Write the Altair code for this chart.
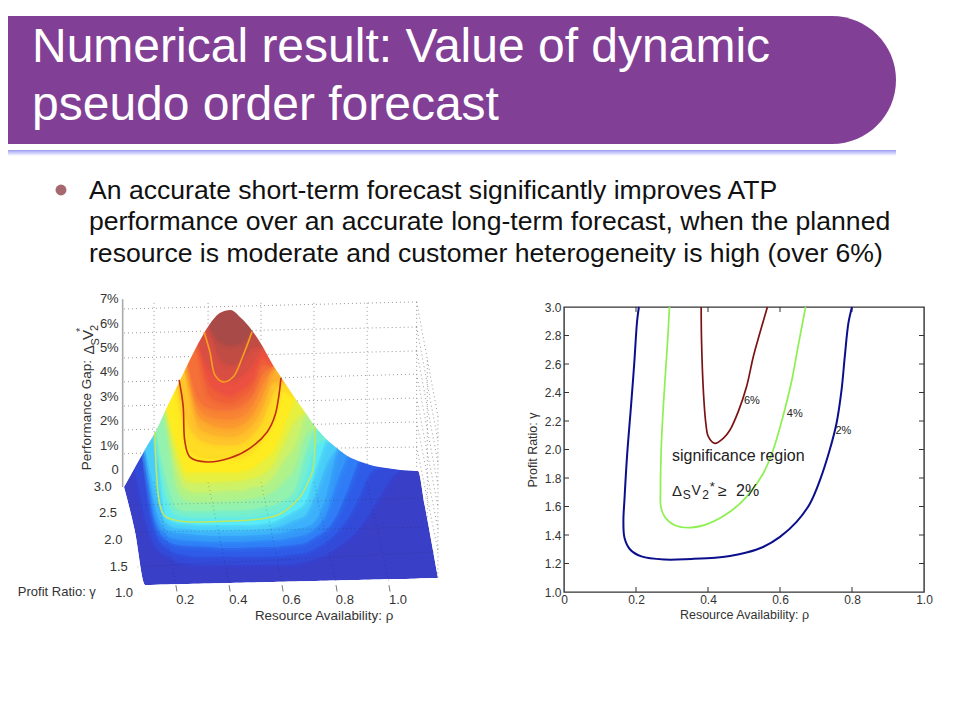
import altair as alt

FONT = "Liberation Sans"

TITLE_LINES = ["Numerical result: Value of dynamic", "pseudo order forecast"]
BULLET_LINES = [
    "An accurate short-term forecast significantly improves ATP",
    "performance over an accurate long-term forecast, when the planned",
    "resource is moderate and customer heterogeneity is high (over 6%)",
]

# ---- right panel: contours
BLUE_RHO = [0.208,0.203,0.195,0.186,0.175,0.168,0.165,0.168,0.183,0.215,0.28,0.355,0.42,0.461,0.507,0.553,0.60,0.646,0.683,0.711,0.738,0.757,0.771,0.78,0.79,0.80]
BLUE_GAM = [3.0,2.9,2.6,2.3,1.95,1.65,1.5,1.38,1.30,1.25,1.228,1.232,1.24,1.253,1.277,1.316,1.387,1.492,1.62,1.785,1.996,2.184,2.418,2.653,2.887,3.0]
GREEN_RHO = [0.293,0.288,0.28,0.271,0.268,0.269,0.28,0.308,0.35,0.401,0.461,0.507,0.553,0.581,0.608,0.631,0.65,0.671]
GREEN_GAM = [3.0,2.77,2.465,2.067,1.715,1.6,1.527,1.469,1.452,1.48,1.563,1.668,1.83,1.996,2.23,2.465,2.72,3.0]
RED_RHO = [0.381,0.382,0.387,0.394,0.401,0.419,0.443,0.461,0.484,0.507,0.526,0.544,0.565]
RED_GAM = [3.0,2.77,2.418,2.184,2.09,2.043,2.08,2.137,2.266,2.44,2.653,2.817,3.0]
RHO_TICKS = [0,0.2,0.4,0.6,0.8,1.0]
GAM_TICKS = [1.0,1.2,1.4,1.6,1.8,2.0,2.2,2.4,2.6,2.8,3.0]
LABEL_RHO = [0.522,0.641,0.776]
LABEL_GAM = [2.343,2.25,2.13]
LABEL_TXT = ["6%","4%","2%"]

# ---- left panel: surface, rho as projected on the front edge, height in percent
COL = [-0.03,0.01,0.05,0.09,0.13,0.17,0.21,0.25,0.29,0.33,0.37,0.41,0.45,0.49,0.53,0.57,0.61,0.65,0.69,0.73,0.77,0.81,0.85,0.89,0.93,0.97,1.01,1.05,1.075,1.10,1.15]
TOP = [-0.70,0.08,0.86,1.60,2.54,3.44,4.34,5.20,5.94,6.43,6.56,6.23,5.74,5.08,4.30,3.65,2.99,2.38,1.76,1.27,0.90,0.57,0.37,0.23,0.12,0.06,0.0,-0.02,-0.04,-1.43,-4.43]
BASE = [-0.70,-2.46,-4.71,-4.70,-4.69,-4.68,-4.67,-4.66,-4.65,-4.64,-4.63,-4.62,-4.61,-4.60,-4.59,-4.58,-4.57,-4.56,-4.55,-4.54,-4.53,-4.52,-4.51,-4.50,-4.49,-4.48,-4.47,-4.46,-4.45,-4.44,-4.43]
BAND_COLORS = ["#3349d8","#2e5ce8","#2f7cf6","#3396f8","#3cb0fa","#48ccf8","#58eaf6","#72eed2","#93f2ae","#b0f28a","#ccf26a","#e6f040","#ffec20","#ffdc24","#ffc52a","#fdb02c","#fb9830","#f88434","#f47038","#f06038","#ec5040","#d84e42","#c04c44","#a84a48"]
BAND_START = [1,2,2,2,2,2,3,3,3,4,4,4,4,5,5,6,6,6,6,7,7,7,8,8]
BAND_LOW = [
    [0.08,-2.05,-3.20,-3.52,-3.77,-3.85,-3.89,-3.89,-3.89,-3.89,-3.89,-3.89,-3.89,-3.89,-3.89,-3.85,-3.77,-3.65,-3.48,-3.20,-2.87,-2.46,-1.84,-1.15,-0.41,0.0],
    [0.86,-2.6,-3.2,-3.42,-3.5,-3.55,-3.55,-3.55,-3.55,-3.55,-3.55,-3.55,-3.55,-3.5,-3.45,-3.4,-3.2,-2.95,-2.55,-2.0,-1.2,-0.2,0.12],
    [0.86,-2.25,-2.87,-3.07,-3.11,-3.14,-3.16,-3.20,-3.20,-3.20,-3.18,-3.16,-3.16,-3.11,-3.07,-2.99,-2.74,-2.46,-1.84,-0.82,0.37],
    [0.86,-1.95,-2.68,-2.85,-2.9,-2.92,-2.95,-2.95,-2.95,-2.95,-2.92,-2.9,-2.88,-2.85,-2.75,-2.65,-2.4,-1.8,-0.5,0.57],
    [0.86,-1.64,-2.46,-2.58,-2.62,-2.66,-2.70,-2.70,-2.70,-2.70,-2.68,-2.66,-2.62,-2.56,-2.42,-2.34,-2.05,-1.02,0.90],
    [0.86,-1.0,-2.2,-2.4,-2.42,-2.48,-2.48,-2.48,-2.48,-2.48,-2.46,-2.44,-2.38,-2.25,-2.05,-1.85,-1.0,0.2,0.90],
    [1.60,-1.93,-2.17,-2.20,-2.25,-2.25,-2.25,-2.25,-2.25,-2.25,-2.20,-2.13,-1.93,-1.68,-1.35,0.0,1.27],
    [1.60,-1.2,-1.88,-1.95,-1.97,-1.97,-1.95,-1.95,-1.95,-1.92,-1.85,-1.78,-1.6,-1.25,-0.4,1.0,1.27],
    [1.60,-0.41,-1.56,-1.68,-1.68,-1.68,-1.64,-1.64,-1.64,-1.60,-1.52,-1.43,-1.23,-0.82,0.61,1.76],
    [2.54,-0.8,-1.25,-1.3,-1.3,-1.27,-1.25,-1.23,-1.15,-1.07,-0.85,-0.45,0.1,1.4,1.76],
    [2.54,0.0,-0.82,-0.90,-0.90,-0.86,-0.82,-0.82,-0.70,-0.61,-0.25,0.41,1.02,2.38],
    [2.54,0.5,-0.45,-0.5,-0.5,-0.48,-0.45,-0.43,-0.33,-0.15,0.25,1.1,2.0,2.38],
    [2.54,1.0,-0.1,-0.08,-0.08,-0.08,-0.08,-0.04,0.08,0.41,0.82,1.8,2.99],
    [3.44,0.95,0.55,0.45,0.45,0.45,0.5,0.75,1.2,2.0,3.2,2.99],
    [3.44,1.9,1.3,1.1,1.02,1.02,1.1,1.4,2.0,3.1,3.65],
    [4.34,1.75,1.5,1.4,1.37,1.48,1.8,2.5,3.6,3.65],
    [4.34,2.2,1.9,1.76,1.72,1.85,2.2,3.0,4.30],
    [4.34,2.55,2.2,2.1,2.08,2.2,2.6,3.5,4.30],
    [4.34,2.9,2.55,2.46,2.46,2.6,3.0,3.9,4.30],
    [5.20,3.05,2.8,2.75,2.95,3.35,4.3,4.30],
    [5.20,3.6,3.2,3.07,3.3,3.7,4.6,4.30],
    [5.20,4.2,3.8,3.65,3.85,4.3,5.08],
    [5.94,4.6,4.3,4.5,5.0,5.08],
    [5.94,5.3,5.12,5.2,5.74],
]
C2_RHO = [0.086,0.094,0.105,0.124,0.18,0.256,0.368,0.481,0.556,0.632,0.662,0.68,0.688]
C2_H = [1.56,-0.41,-1.43,-1.89,-2.09,-2.13,-2.09,-2.01,-1.80,-1.1,-0.49,0.0,1.76]
C4_RHO = [0.177,0.192,0.199,0.218,0.282,0.368,0.444,0.508,0.538,0.56]
C4_H = [3.69,2.66,1.15,0.53,0.33,0.49,0.90,1.56,2.25,3.77]
C6_RHO = [0.271,0.293,0.312,0.342,0.38,0.414,0.451]
C6_H = [5.66,4.84,3.89,3.61,3.81,4.59,5.66]

WALL_L = [6.60,5.61,4.59,3.61,2.62,1.64,0.66]
WALL_R = [6.89,5.86,4.88,3.93,2.95,1.97,0.94]
ROW_CUT_L = [(None,None),(0.27,5.69),(0.225,4.65),(0.18,3.67),(0.136,2.67),(0.093,1.68),(0.042,0.70)]
ROW_CUT_R = [(None,None),(0.45,5.72),(0.51,4.73),(0.56,3.78),(0.62,2.83),(0.68,1.87),(0.77,0.90)]
WALL_SIDE = [2.20,1.20,0.30,-0.60,-1.50,-2.40,-3.30]
WALL_V = [0.083,0.286,0.485,0.684,0.884]
WALL_V_END = [1.4,5.9,5.2,1.85,0.2]
FRONT_V = [0.165,0.365,0.564,0.767,0.966]
FLOOR_L = [(0.02,-3.97),(0.01,-2.55),(-0.01,-1.44)]
FLOOR_R = [(1.135,-3.36),(1.12,-2.34),(1.11,-1.15)]

H_TICKS = [1,2,3,4,5,6,7]
RHO_LBL = [0.2,0.4,0.6,0.8,1.0]
GAM3D = ["3.0","2.5","2.0","1.5","1.0"]
GAM3D_X = [-0.11,-0.09,-0.07,-0.05,-0.03]
GAM3D_Y = [-0.70,-1.78,-2.87,-3.97,-5.04]

# ---------- top
def vals(rows):
    return alt.Data(values=rows)

one = vals([{"a": 1}])
banner = alt.Chart(one).mark_rect(color="#823f96", cornerRadiusTopRight=64, cornerRadiusBottomRight=64).encode(
    x=alt.value(0), x2=alt.value(888), y=alt.value(8), y2=alt.value(136))
underline = alt.Chart(one).mark_rect(color=alt.Gradient(gradient="linear", x1=0, x2=0, y1=0, y2=1,
        stops=[alt.GradientStop(color="#9c9cf4", offset=0), alt.GradientStop(color="#ffffff", offset=1)])).encode(
    x=alt.value(0), x2=alt.value(888), y=alt.value(142), y2=alt.value(148))
top_layers = [banner, underline]
for t, yy in zip(TITLE_LINES, [54, 112]):
    top_layers.append(alt.Chart(one).mark_text(font=FONT, fontSize=48, color="white", align="left", baseline="alphabetic").encode(
        x=alt.value(24), y=alt.value(yy), text=alt.value(t)))
for t, yy in zip(BULLET_LINES, [191, 222, 254]):
    top_layers.append(alt.Chart(one).mark_text(font=FONT, fontSize=26.6, color="#111111", align="left", baseline="alphabetic").encode(
        x=alt.value(81), y=alt.value(yy), text=alt.value(t)))
top_layers.append(alt.Chart(one).mark_circle(color="#a4686e", size=120, opacity=1).encode(x=alt.value(53), y=alt.value(182)))
top = alt.layer(*top_layers).properties(width=944, height=299)

# ---------- left
XL = alt.Scale(domain=[-0.466, 1.481], nice=False, zero=False)
YL = alt.Scale(domain=[-6.844, 6.68], nice=False, zero=False)
def X(): return alt.X("x:Q", scale=XL, axis=None)
def Y(): return alt.Y("y:Q", scale=YL, axis=None)

def seg(x1, y1, x2, y2):
    return [{"x": x1, "y": y1, "i": 0}, {"x": x2, "y": y2, "i": 1}]

def path_layer(points, **mk):
    return alt.Chart(vals(points)).mark_line(**mk).encode(X(), Y(), order="i:Q")

def txt(x, y, s, size=12, align="center", angle=0, color="#333333", baseline="middle"):
    return alt.Chart(vals([{"x": x, "y": y, "s": s}])).mark_text(font=FONT, fontSize=size, align=align, angle=angle, color=color, baseline=baseline).encode(X(), Y(), text="s:N")

L = []
base_rows = [{"x": c, "y": t, "y0": b} for c, t, b in zip(COL, TOP, BASE)]
def band(rows, color):
    return alt.Chart(vals(rows)).mark_area(fill=color, interpolate="monotone", opacity=1).encode(X(), Y(), y2="y0:Q")
def halo(rows, color, w, op):
    return alt.Chart(vals(rows)).mark_area(fill=color, fillOpacity=0, stroke=color, strokeWidth=w, strokeOpacity=op, interpolate="monotone").encode(X(), Y(), y2="y0:Q")
L.append(band(base_rows, "#3a3fc8"))
for color, start, low in zip(BAND_COLORS, BAND_START, BAND_LOW):
    rows = [{"x": COL[start + i], "y": TOP[start + i], "y0": v} for i, v in enumerate(low)]
    L.append(halo(rows, color, 9, 0.18))
    L.append(halo(rows, color, 4, 0.3))
    L.append(band(rows, color))

# white masks over what the soft edges spill past the surface outline
mask_up = [{"x": c, "y": t, "y0": 7.6} for c, t in zip(COL, TOP)]
mask_dn = [{"x": c, "y": b, "y0": -5.6} for c, b in zip(COL, BASE)]
L.append(band(mask_up, "#ffffff"))
L.append(band(mask_dn, "#ffffff"))
L.append(band([{"x": -0.1, "y": 7.6, "y0": -5.6}, {"x": -0.03, "y": 7.6, "y0": -5.6}], "#ffffff"))
L.append(band([{"x": 1.15, "y": 7.6, "y0": -5.6}, {"x": 1.2, "y": 7.6, "y0": -5.6}], "#ffffff"))

dot = dict(color="#999999", strokeWidth=1, strokeDash=[1, 3])
for a, b, cl, cr in zip(WALL_L, WALL_R, ROW_CUT_L, ROW_CUT_R):
    if cl[0] is None:
        L.append(path_layer(seg(-0.03, a, 1.07, b), **dot))
    else:
        L.append(path_layer(seg(-0.03, a, cl[0], cl[1]), **dot))
        L.append(path_layer(seg(cr[0], cr[1], 1.07, b), **dot))
for v, e in zip(WALL_V, WALL_V_END):
    L.append(path_layer(seg(v, 6.85, v, e), **dot))
for b, s in zip(WALL_R, WALL_SIDE):
    L.append(path_layer(seg(1.07, b, 1.15, s), **dot))
L.append(path_layer(seg(1.07, 6.89, 1.07, 0.0), **dot))
L.append(path_layer(seg(1.11, 4.5, 1.11, -2.0), **dot))
L.append(path_layer(seg(1.15, 2.2, 1.15, -4.4), **dot))
L.append(path_layer(seg(-0.035, 7.0, -0.035, -0.70), color="#aaaaaa", strokeWidth=1.6))

sdot = dict(color="#222244", strokeWidth=0.8, strokeDash=[1, 3], opacity=0.4)
for v, f in zip(WALL_V, FRONT_V):
    L.append(path_layer(seg(v, -0.5, f, -4.6), **sdot))
for a, b in zip(FLOOR_L, FLOOR_R):
    L.append(path_layer(seg(a[0], a[1], b[0], b[1]), **sdot))

def curve(xs, ys, color, w=1.6):
    return path_layer([{"x": a, "y": b, "i": i} for i, (a, b) in enumerate(zip(xs, ys))], color=color, strokeWidth=w, interpolate="catmull-rom")
L.append(curve(C2_RHO, C2_H, "#bce864"))
L.append(curve(C4_RHO, C4_H, "#c02c10"))
L.append(curve(C6_RHO, C6_H, "#f5a020"))

for v in FRONT_V:
    L.append(path_layer(seg(v, -4.72, v + 0.004, -4.98), color="#777777", strokeWidth=1))
for h in H_TICKS + [0]:
    s = f"{h}%" if h else "0"
    L.append(txt(-0.05, h, s, size=13, align="right"))
for r in RHO_LBL:
    L.append(txt(r, -5.33, f"{r:.1f}", size=13))
for x, y, s in zip(GAM3D_X, GAM3D_Y, GAM3D):
    L.append(txt(x, y, s, size=13))
L.append(txt(-0.429, -5.0, "Profit Ratio:  \u03b3", size=13, align="left"))
L.append(txt(0.722, -5.98, "Resource Availability:  \u03c1", size=13.4))
L.append(txt(-0.169, 2.25, "Performance Gap:", size=13.5, angle=270))
L.append(txt(-0.158, 4.92, "\u0394", size=14, angle=270))
L.append(txt(-0.135, 5.25, "S", size=11, angle=270))
L.append(txt(-0.165, 5.53, "V", size=15, angle=270))
L.append(txt(-0.139, 5.82, "2", size=11, angle=270))
L.append(txt(-0.19, 5.74, "*", size=11, angle=270))
left = alt.layer(*L).properties(width=518, height=330)

# ---------- right
XR = alt.Scale(domain=[0, 1], nice=False, zero=False)
YR = alt.Scale(domain=[1, 3], nice=False, zero=False)
axis_common = dict(tickSize=0, domain=False, grid=False, labelFont=FONT, labelFontSize=12, labelColor="#333333",
                   titleFont=FONT, titleFontSize=12.5, titleColor="#333333", titleFontWeight="normal")
AX = alt.Axis(values=RHO_TICKS, title="Resource Availability:  \u03c1", titlePadding=3, labelPadding=2,
              labelExpr="datum.value == 0 ? '0' : format(datum.value, '.1f')", labelFlush=False, **axis_common)
AY = alt.Axis(values=GAM_TICKS, title="Profit Ratio:  \u03b3", titlePadding=5, labelPadding=3, format=".1f", **axis_common)
def XN(): return alt.X("x:Q", scale=XR, axis=AX)
def YN(): return alt.Y("y:Q", scale=YR, axis=AY)

def contour(xs, ys, color, w=1.7):
    rows = [{"x": a, "y": b, "i": i} for i, (a, b) in enumerate(zip(xs, ys))]
    return alt.Chart(vals(rows)).mark_line(color=color, strokeWidth=w, interpolate="catmull-rom").encode(XN(), YN(), order="i:Q")

R = []
for v in RHO_TICKS[1:-1]:
    for y0, y1 in ((285, 280), (0, 5)):
        R.append(alt.Chart(vals([{"x": v}])).mark_rule(color="#333333", strokeWidth=1).encode(
            XN(), y=alt.value(y0), y2=alt.value(y1)))
for v in GAM_TICKS[1:-1]:
    for x0, x1 in ((0, 5), (360, 355)):
        R.append(alt.Chart(vals([{"y": v}])).mark_rule(color="#333333", strokeWidth=1).encode(
            YN(), x=alt.value(x0), x2=alt.value(x1)))
R.append(contour(BLUE_RHO, BLUE_GAM, "#0b0f8c", 2))
R.append(contour(GREEN_RHO, GREEN_GAM, "#8cf050"))
R.append(contour(RED_RHO, RED_GAM, "#7a1414"))

def rtxt(x, y, s, size=14, align="left", dy=0):
    return alt.Chart(vals([{"x": x, "y": y, "s": s}])).mark_text(font=FONT, fontSize=size, align=align, baseline="middle", color="#222222", dy=dy).encode(XN(), YN(), text="s:N")
for x, y, s in zip(LABEL_RHO, LABEL_GAM, LABEL_TXT):
    R.append(rtxt(x, y, s, size=11, align="center"))
R.append(rtxt(0.30, 1.954, "significance region", size=16))
R.append(rtxt(0.30, 1.71, "\u0394", size=15))
R.append(rtxt(0.33, 1.68, "S", size=12))
R.append(rtxt(0.354, 1.71, "V", size=14))
R.append(rtxt(0.384, 1.68, "2", size=12))
R.append(rtxt(0.405, 1.74, "*", size=13))
R.append(rtxt(0.428, 1.71, "\u2265", size=16))
R.append(rtxt(0.478, 1.71, "2%", size=16))
right = alt.layer(*R).properties(width=360, height=285, view=alt.ViewConfig(stroke="#333333", strokeWidth=1.4))

row = alt.hconcat(left, right, spacing=38, bounds="flush")
chart = alt.vconcat(top, row, spacing=0, bounds="flush").properties(
    padding=0, background="white").configure_view(stroke=None)
chart.save("out.html", embed_options={"renderer": "svg", "actions": False})
